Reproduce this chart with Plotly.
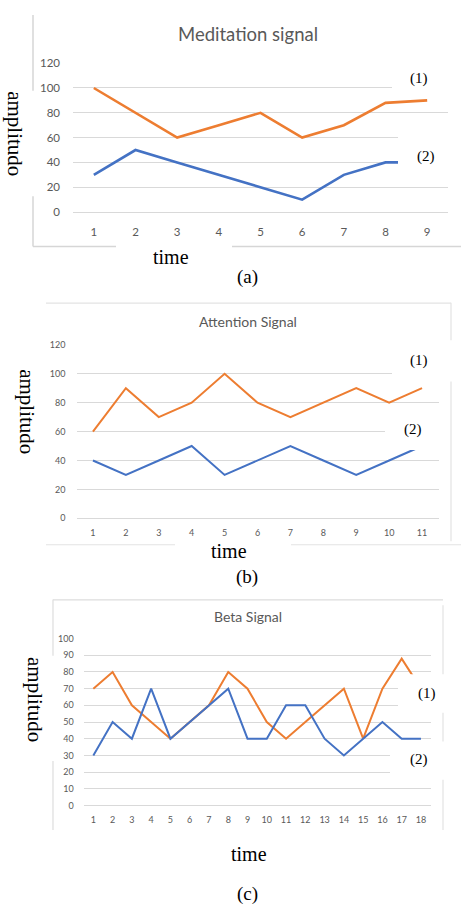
import plotly.graph_objects as go

W, H = 461, 913

# ---------------- data ----------------
med_time = [1, 2, 3, 4, 5, 6, 7, 8, 9]
med_orange = [100, 80, 60, 70, 80, 60, 70, 88, 90]
med_blue = [30, 50, 40, 30, 20, 10, 30, 40, 40]

att_time = [1, 2, 3, 4, 5, 6, 7, 8, 9, 10, 11]
att_orange = [60, 90, 70, 80, 100, 80, 70, 80, 90, 80, 90]
att_blue = [40, 30, 40, 50, 30, 40, 50, 40, 30, 40, 50]

beta_time = list(range(1, 19))
beta_orange = [70, 80, 60, 50, 40, 50, 60, 80, 70, 50, 40, 50, 60, 70, 40, 70, 88, 70]
beta_blue = [30, 50, 40, 70, 40, 50, 60, 70, 40, 40, 60, 60, 40, 30, 40, 50, 40, 40]

titles = ["Meditation signal", "Attention Signal", "Beta Signal"]
panel_labels = ["(a)", "(b)", "(c)"]

ORANGE = "#ED7D31"
BLUE = "#4472C4"
GRID = "#D9D9D9"
TICK = "#595959"
SERIF = "Liberation Serif, Times New Roman, serif"
SANS = "Lato, Open Sans, sans-serif"


def px(x):
    return x / W


def py(y):
    return 1 - y / H


fig = go.Figure()

panels = [
    dict(t=med_time, o=med_orange, b=med_blue, ymax=120, dtick=20,
         xd=(73, 448), yd=(208, 57), lw=2.6, tf=11.5, sx=11, sy=12),
    dict(t=att_time, o=att_orange, b=att_blue, ymax=120, dtick=20,
         xd=(76.5, 438.5), yd=(518.7, 342.7), lw=2.0, tf=9, sx=8, sy=10),
    dict(t=beta_time, o=beta_orange, b=beta_blue, ymax=100, dtick=10,
         xd=(83.7, 430.6), yd=(810, 640.7), lw=2.0, tf=9, sx=8, sy=9),
]

for i, p in enumerate(panels):
    k = "" if i == 0 else str(i + 1)
    fig.add_trace(go.Scatter(x=p["t"], y=p["o"], mode="lines",
                             line=dict(color=ORANGE, width=p["lw"]),
                             xaxis="x" + k, yaxis="y" + k, showlegend=False,
                             hoverinfo="skip"))
    fig.add_trace(go.Scatter(x=p["t"], y=p["b"], mode="lines",
                             line=dict(color=BLUE, width=p["lw"]),
                             xaxis="x" + k, yaxis="y" + k, showlegend=False,
                             hoverinfo="skip"))
    n = len(p["t"])
    fig.layout["xaxis" + k] = dict(
        domain=[px(p["xd"][0]), px(p["xd"][1])], anchor="y" + k,
        range=[0.5, n + 0.5], tickvals=p["t"], showgrid=False,
        zeroline=False, showline=False, ticks="",
        ticklabelstandoff=p["sx"],
        tickfont=dict(family=SANS, size=p["tf"], color=TICK))
    fig.layout["yaxis" + k] = dict(
        domain=[py(p["yd"][0]), py(p["yd"][1])], anchor="x" + k,
        range=[0, p["ymax"]], dtick=p["dtick"], showgrid=True,
        gridcolor=GRID, gridwidth=1, zeroline=True, zerolinecolor=GRID,
        zerolinewidth=1, showline=False, ticks="",
        ticklabelstandoff=p["sy"],
        tickfont=dict(family=SANS, size=p["tf"], color=TICK))

shapes = []


def line(x0, y0, x1, y1, color="#D6D6D6", w=1.5):
    shapes.append(dict(type="line", xref="paper", yref="paper",
                       x0=px(x0), y0=py(y0), x1=px(x1), y1=py(y1),
                       line=dict(color=color, width=w), layer="above"))


def box(x0, y0, x1, y1):
    shapes.append(dict(type="rect", xref="paper", yref="paper",
                       x0=px(x0), y0=py(y0), x1=px(x1), y1=py(y1),
                       fillcolor="white", line=dict(width=0), layer="above"))


# panel (a) frame pieces
line(33, 8, 33, 85)
line(33, 192, 33, 243)
line(33, 243, 116, 243)
line(232, 243, 461, 243)
# panel (b) frame pieces
line(46, 300.5, 451, 300.5, color="#E3E3E3", w=1.2)
line(451, 300, 451, 542, color="#E3E3E3", w=1.2)
line(46, 545.5, 175, 545.5, color="#E3E3E3", w=1.2)
line(291, 545.5, 461, 545.5, color="#E3E3E3", w=1.2)
# panel (c) frame pieces
line(53, 601.5, 443, 601.5, color="#DDDDDD", w=1.2)
line(53, 601, 53, 658, color="#DDDDDD", w=1.2)
line(53, 765, 53, 835, color="#DDDDDD", w=1.2)
line(443, 607, 443, 835, color="#E3E3E3", w=1.2)

# white label boxes covering the plot edges
box(392, 45, 461, 93)
box(398, 122, 461, 166)
box(392, 338, 461, 380)
box(385, 420, 446, 449.3)
box(398, 677, 461, 716)
box(390, 745, 461, 784)

fig.update_layout(shapes=shapes)

ann = []


def text(t, x, y, size, family=SERIF, color="black", angle=0):
    ann.append(dict(text=t, x=px(x), y=py(y), xref="paper", yref="paper",
                    xanchor="center", yanchor="middle", showarrow=False,
                    textangle=angle, font=dict(family=family, size=size, color=color)))


text(titles[0], 248, 27, 18.5, family=SANS, color=TICK)
text(titles[1], 248, 319, 14, family=SANS, color=TICK)
text(titles[2], 248, 618, 14, family=SANS, color=TICK)

text("amplitudo", 15, 128, 21, angle=90)
text("amplitudo", 27, 410, 21, angle=90)
text("amplitudo", 35, 702, 21, angle=90)

text("time", 171, 254, 20)
text("time", 229, 552, 20)
text("time", 249, 859, 20)

text(panel_labels[0], 247, 274, 19)
text(panel_labels[1], 247, 578, 19)
text(panel_labels[2], 247, 900, 19)

text("(1)", 419, 73, 15)
text("(2)", 426, 152, 15)
text("(1)", 419, 359, 15)
text("(2)", 413, 429, 15)
text("(1)", 427, 696, 15)
text("(2)", 419, 763, 15)

fig.update_layout(annotations=ann, width=W, height=H, autosize=False,
                  margin=dict(l=0, r=0, t=0, b=0),
                  paper_bgcolor="white", plot_bgcolor="white",
                  showlegend=False, hovermode=False)

fig.write_html("out.html",
               config={"displayModeBar": False, "staticPlot": True},
               post_script="document.body.style.margin='0';"
                           "document.body.style.overflow='hidden';")
